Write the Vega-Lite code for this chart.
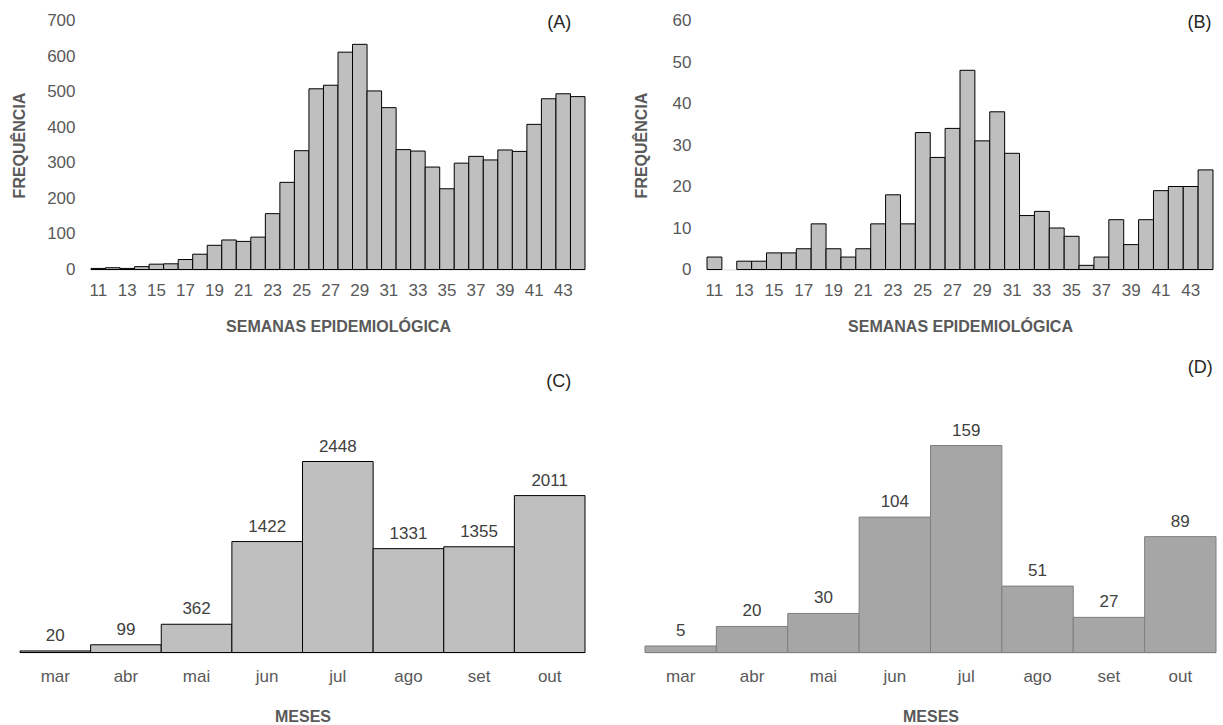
{
  "$schema": "https://vega.github.io/schema/vega-lite/v6.json",
  "padding": {"left": 11, "top": 11.5, "right": 5, "bottom": 5},
  "background": "white",
  "config": {
    "font": "Liberation Sans",
    "view": {"stroke": null},
    "axis": {"grid": false, "ticks": false, "labelColor": "#595959", "labelFontSize": 17, "titleColor": "#595959", "titleFontSize": 16, "titleFontWeight": "bold", "labelOverlap": false}
  },
  "datasets": {
    "a": [
      {"week": 11, "n": 3}, {"week": 12, "n": 5}, {"week": 13, "n": 3}, {"week": 14, "n": 8},
      {"week": 15, "n": 15}, {"week": 16, "n": 16}, {"week": 17, "n": 28}, {"week": 18, "n": 43},
      {"week": 19, "n": 68}, {"week": 20, "n": 83}, {"week": 21, "n": 79}, {"week": 22, "n": 91},
      {"week": 23, "n": 157}, {"week": 24, "n": 245}, {"week": 25, "n": 334}, {"week": 26, "n": 508},
      {"week": 27, "n": 518}, {"week": 28, "n": 611}, {"week": 29, "n": 633}, {"week": 30, "n": 502},
      {"week": 31, "n": 455}, {"week": 32, "n": 337}, {"week": 33, "n": 333}, {"week": 34, "n": 288},
      {"week": 35, "n": 227}, {"week": 36, "n": 299}, {"week": 37, "n": 318}, {"week": 38, "n": 308},
      {"week": 39, "n": 336}, {"week": 40, "n": 332}, {"week": 41, "n": 408}, {"week": 42, "n": 480},
      {"week": 43, "n": 494}, {"week": 44, "n": 486}
    ],
    "b": [
      {"week": 11, "n": 3}, {"week": 12, "n": 0}, {"week": 13, "n": 2}, {"week": 14, "n": 2},
      {"week": 15, "n": 4}, {"week": 16, "n": 4}, {"week": 17, "n": 5}, {"week": 18, "n": 11},
      {"week": 19, "n": 5}, {"week": 20, "n": 3}, {"week": 21, "n": 5}, {"week": 22, "n": 11},
      {"week": 23, "n": 18}, {"week": 24, "n": 11}, {"week": 25, "n": 33}, {"week": 26, "n": 27},
      {"week": 27, "n": 34}, {"week": 28, "n": 48}, {"week": 29, "n": 31}, {"week": 30, "n": 38},
      {"week": 31, "n": 28}, {"week": 32, "n": 13}, {"week": 33, "n": 14}, {"week": 34, "n": 10},
      {"week": 35, "n": 8}, {"week": 36, "n": 1}, {"week": 37, "n": 3}, {"week": 38, "n": 12},
      {"week": 39, "n": 6}, {"week": 40, "n": 12}, {"week": 41, "n": 19}, {"week": 42, "n": 20},
      {"week": 43, "n": 20}, {"week": 44, "n": 24}
    ],
    "c": [
      {"month": "mar", "n": 20}, {"month": "abr", "n": 99}, {"month": "mai", "n": 362}, {"month": "jun", "n": 1422},
      {"month": "jul", "n": 2448}, {"month": "ago", "n": 1331}, {"month": "set", "n": 1355}, {"month": "out", "n": 2011}
    ],
    "d": [
      {"month": "mar", "n": 5}, {"month": "abr", "n": 20}, {"month": "mai", "n": 30}, {"month": "jun", "n": 104},
      {"month": "jul", "n": 159}, {"month": "ago", "n": 51}, {"month": "set", "n": 27}, {"month": "out", "n": 89}
    ]
  },
  "spacing": 23,
  "vconcat": [
    {
      "bounds": "flush",
      "spacing": 122,
      "hconcat": [
        {
          "width": 494,
          "height": 249,
          "layer": [
            {
              "data": {"name": "a"},
              "mark": {"type": "bar", "fill": "#bfbfbf", "stroke": "#000000", "strokeWidth": 1},
              "encoding": {
                "x": {"field": "week", "type": "ordinal",
                  "scale": {"domain": [11,12,13,14,15,16,17,18,19,20,21,22,23,24,25,26,27,28,29,30,31,32,33,34,35,36,37,38,39,40,41,42,43,44], "paddingInner": 0, "paddingOuter": 0},
                  "axis": {"values": [11,13,15,17,19,21,23,25,27,29,31,33,35,37,39,41,43], "labelAngle": 0, "labelPadding": 12.5, "domain": true, "domainColor": "#d9d9d9", "title": "SEMANAS EPIDEMIOLÓGICA", "titlePadding": 20.5}},
                "y": {"field": "n", "type": "quantitative",
                  "scale": {"domain": [0, 700], "nice": false},
                  "axis": {"values": [0,100,200,300,400,500,600,700], "tickCount": 8, "labelOverlap": false, "domain": false, "labelPadding": 16, "title": "FREQUÊNCIA", "titlePadding": 19.6}}
              }
            },
            {
              "data": {"values": [{"label": "(A)"}]},
              "mark": {"type": "text", "fontSize": 18, "color": "#262626", "baseline": "middle", "align": "center", "dx": -4},
              "encoding": {
                "x": {"datum": 43, "type": "ordinal"},
                "y": {"datum": 694, "type": "quantitative", "axis": {"values": [0,100,200,300,400,500,600,700], "tickCount": 8, "labelOverlap": false, "domain": false, "labelPadding": 16, "title": "FREQUÊNCIA", "titlePadding": 19.6}},
                "text": {"field": "label", "type": "nominal"}
              }
            }
          ]
        },
        {
          "width": 506,
          "height": 249,
          "layer": [
            {
              "data": {"name": "b"},
              "mark": {"type": "bar", "fill": "#bfbfbf", "stroke": "#000000", "strokeWidth": 1},
              "encoding": {
                "x": {"field": "week", "type": "ordinal",
                  "scale": {"domain": [11,12,13,14,15,16,17,18,19,20,21,22,23,24,25,26,27,28,29,30,31,32,33,34,35,36,37,38,39,40,41,42,43,44], "paddingInner": 0, "paddingOuter": 0},
                  "axis": {"values": [11,13,15,17,19,21,23,25,27,29,31,33,35,37,39,41,43], "labelAngle": 0, "labelPadding": 12.5, "domain": true, "domainColor": "#d9d9d9", "title": "SEMANAS EPIDEMIOLÓGICA", "titlePadding": 20.5}},
                "y": {"field": "n", "type": "quantitative",
                  "scale": {"domain": [0, 60], "nice": false},
                  "axis": {"values": [0,10,20,30,40,50,60], "labelOverlap": false, "domain": false, "labelPadding": 16, "title": "FREQUÊNCIA", "titlePadding": 23}},
                "strokeOpacity": {"condition": {"test": "datum.n === 0", "value": 0}, "value": 1}
              }
            },
            {
              "data": {"values": [{"label": "(B)"}]},
              "mark": {"type": "text", "fontSize": 18, "color": "#262626", "baseline": "middle", "align": "center", "dx": -6},
              "encoding": {"x": {"datum": 44, "type": "ordinal"}, "y": {"datum": 59.5, "type": "quantitative"}, "text": {"field": "label", "type": "nominal"}}
            }
          ]
        }
      ]
    },
    {
      "bounds": "flush",
      "spacing": 60,
      "hconcat": [
        {
          "width": 494,
          "height": 295,
          "layer": [
            {
              "data": {"name": "c"},
              "mark": {"type": "bar", "fill": "#bfbfbf", "stroke": "#000000", "strokeWidth": 1},
              "encoding": {
                "x": {"field": "month", "type": "nominal",
                  "scale": {"domain": ["mar","abr","mai","jun","jul","ago","set","out"], "range": [-71, 494], "paddingInner": 0, "paddingOuter": 0},
                  "axis": {"labelAngle": 0, "labelPadding": 15.5, "domain": true, "domainColor": "#d9d9d9", "title": "MESES", "titlePadding": 24.5}},
                "y": {"field": "n", "type": "quantitative",
                  "scale": {"domain": [0, 3781], "nice": false},
                  "axis": null}
              }
            },
            {
              "data": {"name": "c"},
              "mark": {"type": "text", "fontSize": 17, "color": "#404040", "baseline": "alphabetic", "align": "center", "dy": -10},
              "encoding": {
                "x": {"field": "month", "type": "nominal"},
                "y": {"field": "n", "type": "quantitative"},
                "text": {"field": "n", "type": "quantitative"}
              }
            },
            {
              "data": {"values": [{"label": "(C)"}]},
              "mark": {"type": "text", "fontSize": 18, "color": "#262626", "baseline": "middle", "align": "center", "dx": 9},
              "encoding": {"x": {"datum": "out", "type": "nominal"}, "y": {"datum": 3473, "type": "quantitative"}, "text": {"field": "label", "type": "nominal"}}
            }
          ]
        },
        {
          "width": 571,
          "height": 295,
          "layer": [
            {
              "data": {"name": "d"},
              "mark": {"type": "bar", "fill": "#a6a6a6", "stroke": "#7f7f7f", "strokeWidth": 1},
              "encoding": {
                "x": {"field": "month", "type": "nominal",
                  "scale": {"domain": ["mar","abr","mai","jun","jul","ago","set","out"], "paddingInner": 0, "paddingOuter": 0},
                  "axis": {"labelAngle": 0, "labelPadding": 15.5, "domain": true, "domainColor": "#d9d9d9", "title": "MESES", "titlePadding": 24.5}},
                "y": {"field": "n", "type": "quantitative",
                  "scale": {"domain": [0, 226.6], "nice": false},
                  "axis": null}
              }
            },
            {
              "data": {"name": "d"},
              "mark": {"type": "text", "fontSize": 17, "color": "#404040", "baseline": "alphabetic", "align": "center", "dy": -10},
              "encoding": {
                "x": {"field": "month", "type": "nominal"},
                "y": {"field": "n", "type": "quantitative"},
                "text": {"field": "n", "type": "quantitative"}
              }
            },
            {
              "data": {"values": [{"label": "(D)"}]},
              "mark": {"type": "text", "fontSize": 18, "color": "#262626", "baseline": "middle", "align": "center", "dx": 20},
              "encoding": {"x": {"datum": "out", "type": "nominal"}, "y": {"datum": 218.9, "type": "quantitative"}, "text": {"field": "label", "type": "nominal"}}
            }
          ]
        }
      ]
    }
  ]
}
